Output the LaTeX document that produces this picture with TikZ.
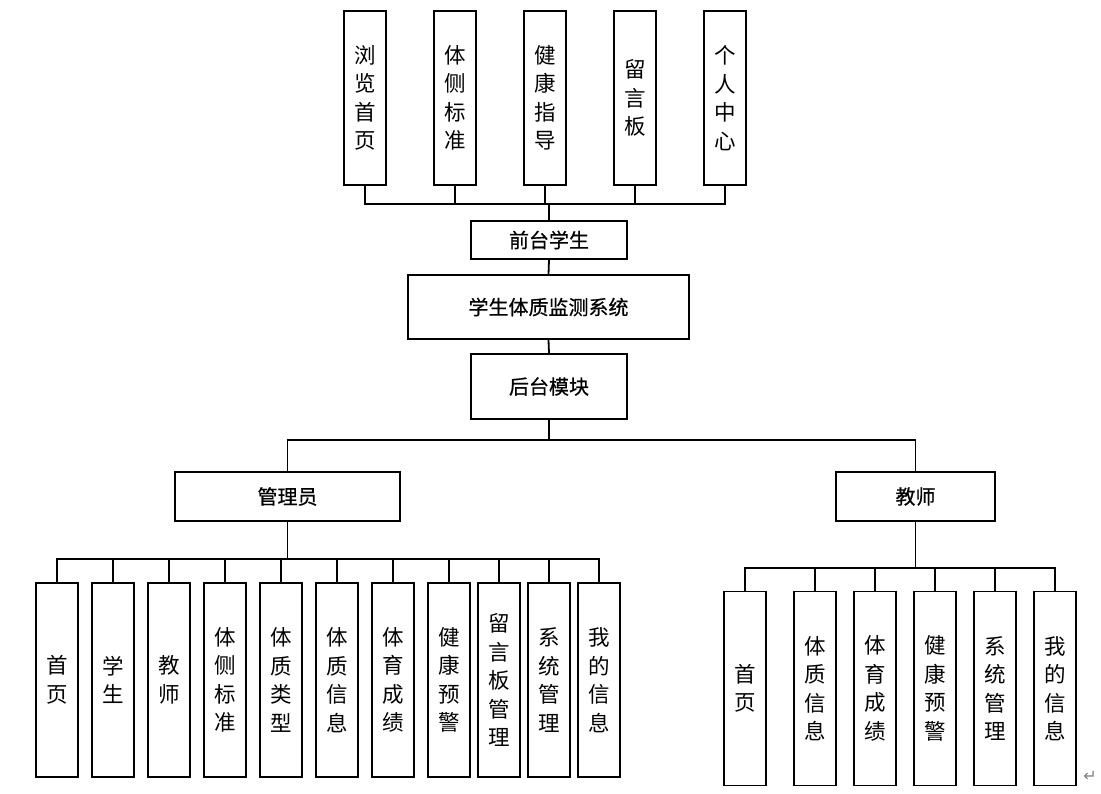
\documentclass[tikz,border=0pt]{standalone}
\usepackage{fontspec}
\setmainfont{Noto Sans CJK SC}
\newfontfamily\symfont{DejaVu Sans}
\newfontfamily\headfont[FakeBold=0.6]{Noto Sans CJK SC}
\usetikzlibrary{positioning}

\begin{document}
\begin{tikzpicture}[
  x=1pt, y=-1pt,
  box/.style={
    draw, line width=1.5pt, inner sep=0pt
  },
  hbox/.style={box, font=\headfont\fontsize{20}{22}\selectfont},
  vbox/.style={
    box, align=center, minimum width=42pt,
    font=\fontsize{21.5}{28.5}\selectfont
  },
  link/.style={line width=1.8pt}
]
  \useasboundingbox (0,0) rectangle (1101,794);
  % front side
  \foreach \i/\x/\txt in {1/365/{浏\\览\\首\\页},2/455/{体\\侧\\标\\准},
      3/545/{健\\康\\指\\导},4/635/{留\\言\\板},5/725/{个\\人\\中\\心}} {
    \node[vbox, minimum height=174pt] (f\i) at (\x,98){\txt};
  }
  \node[hbox, minimum width=156pt, minimum height=38pt] (front) at (549,240){前台学生};
  \node[hbox, minimum width=281pt, minimum height=64pt] (sys) at (548.5,307){学生体质监测系统};
  \node[hbox, minimum width=156pt, minimum height=65pt] (back) at (549,386.5){后台模块};
  \coordinate (fbus) at (549,204);
  \foreach \i in {1,...,5} {
    \draw[link] (f\i.south) |- (fbus);
  }
  \draw[link] (fbus)--(front.north);
  \draw[link] (front.south)--(sys.north);
  \draw[link] (sys.south)--(back.north);
  % back side
  \node[hbox, minimum width=225pt, minimum height=49pt] (admin) at (287.5,496.5){管理员};
  \node[hbox, minimum width=159pt, minimum height=49pt] (teacher) at (915.5,496.5){教师};
  \coordinate (bbus) at (549,440);
  \draw[link] (back.south)--(bbus);
  \draw[link] (admin.north) |- (bbus);
  \draw[link] (teacher.north) |- (bbus);
  \foreach \i/\x/\txt in {1/57/{首\\页},2/113/{学\\生},3/169/{教\\师},
      4/225/{体\\侧\\标\\准},5/281/{体\\质\\类\\型},6/337/{体\\质\\信\\息},
      7/393/{体\\育\\成\\绩},8/449/{健\\康\\预\\警},9/499/{留\\言\\板\\管\\理},
      10/549/{系\\统\\管\\理},11/599/{我\\的\\信\\息}} {
    \node[vbox, minimum height=194pt] (a\i) at (\x,680){\txt};
  }
  \coordinate (abus) at (287.5,559);
  \draw[link] (admin.south)--(abus);
  \foreach \i in {1,...,11} {
    \draw[link] (a\i.north) |- (abus);
  }
  \foreach \i/\x/\txt in {1/745/{首\\页},2/815/{体\\质\\信\\息},3/875/{体\\育\\成\\绩},
      4/935/{健\\康\\预\\警},5/995/{系\\统\\管\\理},6/1055/{我\\的\\信\\息}} {
    \node[vbox, minimum height=194pt] (t\i) at (\x,688.5){\txt};
  }
  \coordinate (tbus) at (915.5,568);
  \draw[link] (teacher.south)--(tbus);
  \foreach \i in {1,...,6} {
    \draw[link] (t\i.north) |- (tbus);
  }
  \node[font=\symfont\fontsize{16}{16}\selectfont, text=gray, inner sep=0pt] (mark) at (1090,776){↵};
\end{tikzpicture}
\end{document}
